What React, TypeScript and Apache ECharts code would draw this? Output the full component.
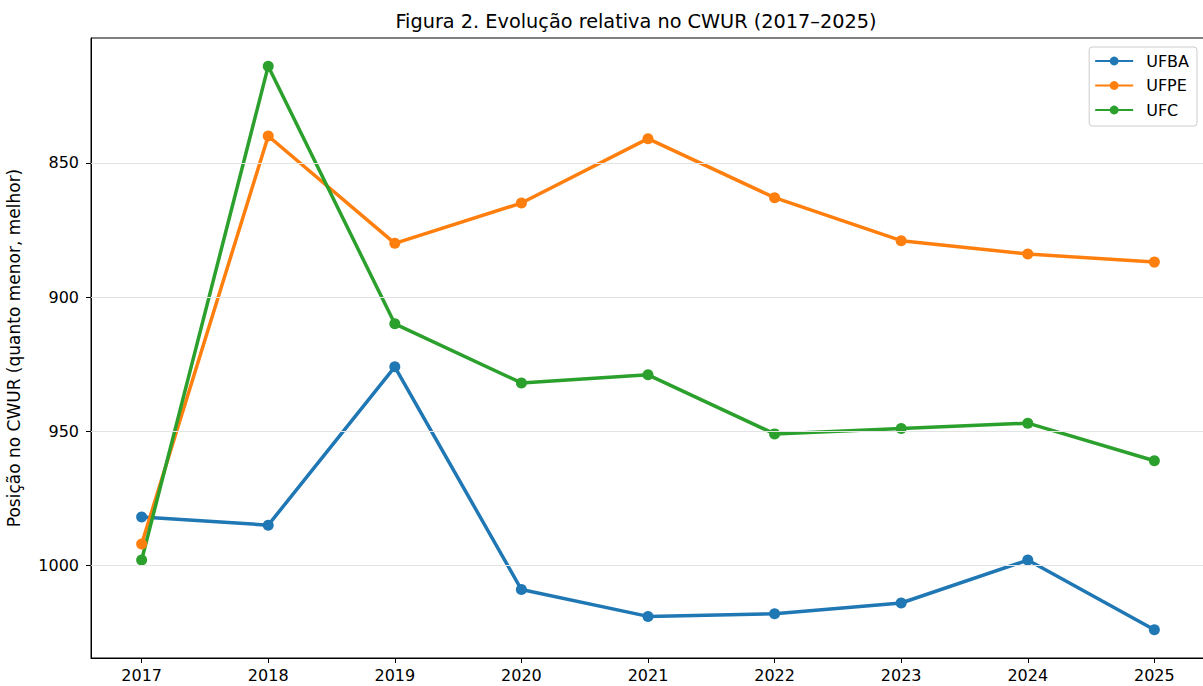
import React, { useEffect, useRef } from "react";
import * as echarts from "echarts";

const years = [2017, 2018, 2019, 2020, 2021, 2022, 2023, 2024, 2025];
const yTicks = [850, 900, 950, 1000];
const ufba = [982, 985, 926, 1009, 1019, 1018, 1014, 998, 1024];
const ufpe = [992, 840, 880, 865, 841, 863, 879, 884, 887];
const ufc = [998, 814, 910, 932, 929, 951, 949, 947, 961];
const seriesNames = ["UFBA", "UFPE", "UFC"];
const seriesColors = ["#1f77b4", "#ff7f0e", "#2ca02c"];
const titleText = "Figura 2. Evolução relativa no CWUR (2017–2025)";
const yName = "Posição no CWUR (quanto menor, melhor)";

const FONT = "DejaVu Sans";

export default function App() {
  const ref = useRef<HTMLDivElement>(null);
  useEffect(() => {
    document.body.style.margin = "0";
    if (!ref.current) return;
    const chart = echarts.init(ref.current, undefined, { renderer: "svg" });
    const allData = [ufba, ufpe, ufc];
    const lineSeries = seriesNames.map((name, i) => ({
      name,
      type: "line",
      z: 3,
      data: years.map((y, j) => [y, allData[i][j]]),
      symbol: "circle",
      symbolSize: 11,
      itemStyle: { color: seriesColors[i] },
      lineStyle: { color: seriesColors[i], width: 3.5 },
    }));
    chart.setOption({
      animation: false,
      backgroundColor: "#ffffff",
      textStyle: { fontFamily: FONT },
      title: {
        text: titleText,
        left: 631,
        textAlign: "center",
        top: 7,
        textStyle: { fontFamily: FONT, fontSize: 19.3, fontWeight: "normal", color: "#000" },
      },
      legend: {
        data: seriesNames,
        right: 6,
        top: 47,
        orient: "vertical",
        align: "left",
        itemWidth: 38,
        itemHeight: 11,
        itemGap: 8.5,
        padding: [6, 8, 8, 5],
        borderColor: "#cccccc",
        borderWidth: 1,
        borderRadius: 3,
        backgroundColor: "rgba(255,255,255,0.8)",
        textStyle: { fontFamily: FONT, fontSize: 16, color: "#000", padding: [0, 0, 0, 8] },
      },
      grid: {
        left: 91,
        right: -2,
        top: 38,
        bottom: 28,
        outerBoundsMode: "none",
        containLabel: false,
        show: true,
        borderColor: "#000",
        borderWidth: 1,
        backgroundColor: "transparent",
      },
      xAxis: {
        type: "value",
        min: 2016.6,
        max: 2025.4,
        splitLine: { show: false },
        axisLine: { show: true, lineStyle: { color: "#000" } },
        axisTick: { show: true, length: 5, inside: false, customValues: years, lineStyle: { color: "#000" } },
        axisLabel: { customValues: years, fontFamily: FONT, fontSize: 16, color: "#000", margin: 9, formatter: (v: number) => String(v) },
      },
      yAxis: {
        type: "value",
        inverse: true,
        min: 803.5,
        max: 1034.5,
        name: yName,
        nameLocation: "middle",
        nameRotate: 90,
        nameGap: 69,
        nameTextStyle: { fontFamily: FONT, fontSize: 17, color: "#000" },
        splitLine: { show: false },
        axisLine: { show: true, lineStyle: { color: "#000" } },
        axisTick: { show: true, length: 5, customValues: yTicks, lineStyle: { color: "#000" } },
        axisLabel: { customValues: yTicks, fontFamily: FONT, fontSize: 16, color: "#000", margin: 12, formatter: (v: number) => String(v) },
      },
      series: [
        {
          name: "grid",
          type: "line",
          z: 1,
          data: [],
          silent: true,
          markLine: {
            silent: true,
            symbol: ["none", "none"],
            label: { show: false },
            lineStyle: { color: "#e3e3e3", width: 1, type: "solid" },
            data: yTicks.map((v) => ({ yAxis: v })),
          },
        },
        ...lineSeries,
      ],
    });
    return () => chart.dispose();
  }, []);
  return <div ref={ref} style={{ width: 1203, height: 686 }} />;
}
